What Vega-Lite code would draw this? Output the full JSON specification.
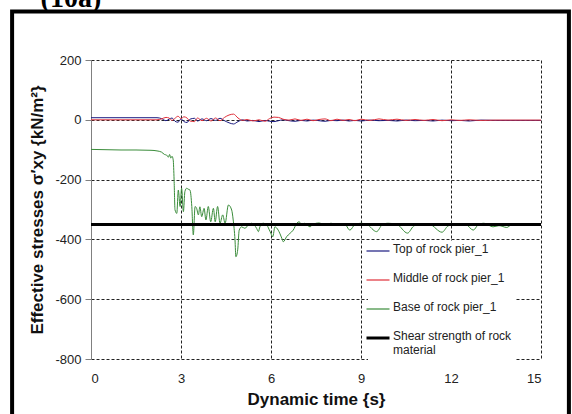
{
  "$schema": "https://vega.github.io/schema/vega-lite/v6.json",
  "autosize": {"type": "none"},
  "width": 450,
  "height": 299,
  "padding": {"left": 91, "top": 60, "right": 31, "bottom": 55},
  "background": "white",
  "config": {
    "font": "Liberation Sans",
    "view": {"stroke": null},
    "axis": {
      "labelFont": "Liberation Sans",
      "labelFontSize": 13,
      "labelColor": "#222",
      "titleFont": "Liberation Sans",
      "titleFontSize": 17,
      "titleFontWeight": "bold",
      "titleColor": "#111",
      "grid": true,
      "gridColor": "#222",
      "gridDash": [3, 2],
      "gridWidth": 1,
      "gridOpacity": 1
    },
    "legend": {
      "orient": "none",
      "legendX": 277,
      "legendY": 181,
      "fillColor": "white",
      "padding": 4,
      "labelFont": "Liberation Sans",
      "labelFontSize": 12,
      "labelColor": "#222",
      "labelLimit": 300,
      "labelOffset": 9,
      "symbolType": "stroke",
      "symbolSize": 530,
      "symbolStrokeWidth": 1.2,
      "rowPadding": 17
    }
  },
  "datasets": {
    "top": [
      {"t": 0, "s": 7}, {"t": 2.2, "s": 7}, {"t": 2.35, "s": 4}, {"t": 2.5, "s": -3}, {"t": 2.6, "s": 2},
      {"t": 2.7, "s": 6}, {"t": 2.8, "s": -5}, {"t": 2.9, "s": -8}, {"t": 3.0, "s": 3}, {"t": 3.1, "s": -6},
      {"t": 3.2, "s": -9}, {"t": 3.3, "s": 2}, {"t": 3.45, "s": 5}, {"t": 3.55, "s": -4}, {"t": 3.7, "s": 3},
      {"t": 3.85, "s": -3}, {"t": 4.0, "s": 4}, {"t": 4.15, "s": -2}, {"t": 4.3, "s": 5}, {"t": 4.45, "s": -3},
      {"t": 4.6, "s": -10}, {"t": 4.75, "s": -14}, {"t": 4.9, "s": -6}, {"t": 5.05, "s": 0}, {"t": 5.2, "s": -4},
      {"t": 5.4, "s": -2}, {"t": 5.6, "s": -6}, {"t": 5.8, "s": -2}, {"t": 5.95, "s": -5}, {"t": 6.1, "s": -6},
      {"t": 6.25, "s": -3}, {"t": 6.4, "s": 0}, {"t": 6.6, "s": -3}, {"t": 6.8, "s": -5}, {"t": 7.0, "s": -2},
      {"t": 7.2, "s": -4}, {"t": 7.4, "s": -1}, {"t": 7.6, "s": -3}, {"t": 7.8, "s": -5}, {"t": 8.0, "s": -2},
      {"t": 8.2, "s": -3}, {"t": 8.4, "s": -1}, {"t": 8.6, "s": -4}, {"t": 8.8, "s": -2}, {"t": 9.0, "s": -4},
      {"t": 9.3, "s": -1}, {"t": 9.6, "s": -3}, {"t": 9.9, "s": -2}, {"t": 10.2, "s": -4}, {"t": 10.5, "s": -1},
      {"t": 10.8, "s": -3}, {"t": 11.1, "s": -2}, {"t": 11.4, "s": -4}, {"t": 11.7, "s": -1}, {"t": 12.0, "s": -3},
      {"t": 12.3, "s": -2}, {"t": 12.6, "s": -4}, {"t": 13.0, "s": -1}, {"t": 13.5, "s": -2}, {"t": 15.0, "s": -2}
    ],
    "middle": [
      {"t": 0, "s": 0}, {"t": 2.2, "s": 0}, {"t": 2.35, "s": 3}, {"t": 2.5, "s": 8}, {"t": 2.6, "s": 6},
      {"t": 2.7, "s": -2}, {"t": 2.8, "s": 5}, {"t": 2.9, "s": 12}, {"t": 3.0, "s": 4}, {"t": 3.1, "s": 10},
      {"t": 3.2, "s": 6}, {"t": 3.3, "s": -4}, {"t": 3.45, "s": -6}, {"t": 3.55, "s": 6}, {"t": 3.7, "s": -3},
      {"t": 3.85, "s": 5}, {"t": 4.0, "s": -4}, {"t": 4.15, "s": 6}, {"t": 4.3, "s": -3}, {"t": 4.45, "s": 8},
      {"t": 4.6, "s": 16}, {"t": 4.75, "s": 19}, {"t": 4.9, "s": 6}, {"t": 5.05, "s": -2}, {"t": 5.2, "s": 1},
      {"t": 5.4, "s": -4}, {"t": 5.6, "s": 0}, {"t": 5.8, "s": -5}, {"t": 5.95, "s": 4}, {"t": 6.1, "s": 9},
      {"t": 6.25, "s": 8}, {"t": 6.4, "s": 2}, {"t": 6.6, "s": -1}, {"t": 6.8, "s": 3}, {"t": 7.0, "s": -2},
      {"t": 7.2, "s": 2}, {"t": 7.4, "s": -3}, {"t": 7.6, "s": 1}, {"t": 7.8, "s": 3}, {"t": 8.0, "s": -3},
      {"t": 8.2, "s": 2}, {"t": 8.4, "s": -2}, {"t": 8.6, "s": 1}, {"t": 8.8, "s": -3}, {"t": 9.0, "s": 2},
      {"t": 9.3, "s": -2}, {"t": 9.6, "s": 3}, {"t": 9.9, "s": -1}, {"t": 10.2, "s": 2}, {"t": 10.5, "s": -2},
      {"t": 10.8, "s": 1}, {"t": 11.1, "s": -2}, {"t": 11.4, "s": 1}, {"t": 11.7, "s": -3}, {"t": 12.0, "s": 0},
      {"t": 12.3, "s": -2}, {"t": 12.6, "s": 0}, {"t": 13.0, "s": -2}, {"t": 13.5, "s": -1}, {"t": 15.0, "s": -1}
    ],
    "base": [
      {"t": 0, "s": -99}, {"t": 0.5, "s": -100}, {"t": 1.0, "s": -101}, {"t": 1.5, "s": -101}, {"t": 2.0, "s": -102},
      {"t": 2.2, "s": -104}, {"t": 2.35, "s": -108}, {"t": 2.45, "s": -116}, {"t": 2.52, "s": -118}, {"t": 2.58, "s": -125},
      {"t": 2.62, "s": -116}, {"t": 2.66, "s": -128}, {"t": 2.7, "s": -122}, {"t": 2.74, "s": -134}, {"t": 2.77, "s": -201},
      {"t": 2.8, "s": -301}, {"t": 2.86, "s": -313}, {"t": 2.91, "s": -235}, {"t": 2.97, "s": -290}, {"t": 3.02, "s": -229},
      {"t": 3.08, "s": -307}, {"t": 3.13, "s": -240}, {"t": 3.19, "s": -229}, {"t": 3.24, "s": -232}, {"t": 3.3, "s": -235},
      {"t": 3.36, "s": -290}, {"t": 3.41, "s": -385}, {"t": 3.47, "s": -290}, {"t": 3.52, "s": -296}, {"t": 3.58, "s": -318},
      {"t": 3.63, "s": -291}, {"t": 3.69, "s": -324}, {"t": 3.77, "s": -296}, {"t": 3.83, "s": -335}, {"t": 3.91, "s": -290},
      {"t": 3.99, "s": -341}, {"t": 4.08, "s": -296}, {"t": 4.14, "s": -341}, {"t": 4.22, "s": -290}, {"t": 4.3, "s": -346},
      {"t": 4.39, "s": -318}, {"t": 4.47, "s": -346}, {"t": 4.58, "s": -285}, {"t": 4.69, "s": -302}, {"t": 4.74, "s": -335},
      {"t": 4.8, "s": -402}, {"t": 4.83, "s": -458}, {"t": 4.89, "s": -435}, {"t": 4.94, "s": -369}, {"t": 5.02, "s": -358},
      {"t": 5.13, "s": -363}, {"t": 5.24, "s": -352}, {"t": 5.36, "s": -346}, {"t": 5.52, "s": -363}, {"t": 5.58, "s": -374},
      {"t": 5.63, "s": -358}, {"t": 5.74, "s": -346}, {"t": 5.86, "s": -352}, {"t": 5.97, "s": -374}, {"t": 6.06, "s": -391},
      {"t": 6.13, "s": -358}, {"t": 6.24, "s": -369}, {"t": 6.36, "s": -396}, {"t": 6.41, "s": -408}, {"t": 6.52, "s": -391},
      {"t": 6.63, "s": -380}, {"t": 6.74, "s": -369}, {"t": 6.86, "s": -346}, {"t": 6.94, "s": -341}, {"t": 7.02, "s": -352},
      {"t": 7.13, "s": -346}, {"t": 7.3, "s": -358}, {"t": 7.41, "s": -349}, {"t": 7.6, "s": -345}, {"t": 7.8, "s": -350},
      {"t": 8.0, "s": -346}, {"t": 8.2, "s": -352}, {"t": 8.45, "s": -348}, {"t": 8.63, "s": -369}, {"t": 8.8, "s": -350},
      {"t": 9.0, "s": -346}, {"t": 9.2, "s": -350}, {"t": 9.52, "s": -374}, {"t": 9.7, "s": -352}, {"t": 9.9, "s": -346},
      {"t": 10.2, "s": -350}, {"t": 10.55, "s": -379}, {"t": 10.75, "s": -356}, {"t": 11.0, "s": -347}, {"t": 11.3, "s": -350},
      {"t": 11.7, "s": -376}, {"t": 11.9, "s": -355}, {"t": 12.2, "s": -347}, {"t": 12.5, "s": -350}, {"t": 12.74, "s": -369},
      {"t": 12.9, "s": -352}, {"t": 13.1, "s": -346}, {"t": 13.4, "s": -358}, {"t": 13.6, "s": -354}, {"t": 13.86, "s": -360},
      {"t": 14.0, "s": -352}, {"t": 14.3, "s": -348}, {"t": 14.6, "s": -350}, {"t": 15.0, "s": -350}
    ],
    "shear": [
      {"t": 0, "s": -350}, {"t": 15, "s": -350}
    ]
  },
  "layer": [
    {
      "data": {"values": [{}]},
      "mark": {"type": "rect", "fill": null, "stroke": "black", "strokeWidth": 4},
      "encoding": {
        "x": {"datum": -2.63, "type": "quantitative"},
        "x2": {"datum": 15.93},
        "y": {"datum": 362, "type": "quantitative"},
        "y2": {"datum": -1040}
      }
    },
    {
      "data": {"values": [{}]},
      "mark": {"type": "text", "text": "(10a)", "font": "Liberation Serif", "fontWeight": "bold", "fontSize": 28, "align": "center", "baseline": "alphabetic", "color": "black"},
      "encoding": {
        "x": {"datum": -0.67, "type": "quantitative"},
        "y": {"datum": 377, "type": "quantitative"}
      }
    },
    {
      "data": {"name": "base"},
      "mark": {"type": "line", "strokeWidth": 1, "interpolate": "monotone"},
      "encoding": {
        "x": {"field": "t", "type": "quantitative", "scale": {"domain": [0, 15], "nice": false},
          "axis": {"values": [0, 3, 6, 9, 12, 15], "title": "Dynamic time {s}", "domain": false, "ticks": false, "labelPadding": 13, "titlePadding": 6}},
        "y": {"field": "s", "type": "quantitative", "scale": {"domain": [-800, 200], "nice": false},
          "axis": {"values": [-800, -600, -400, -200, 0, 200], "labelExpr": "toString(datum.value)", "title": "Effective  stresses σ′xy {kN/m²}", "domain": true, "domainColor": "#808080", "tickColor": "#808080", "tickSize": 6, "labelPadding": 4, "titlePadding": 8}},
        "color": {"datum": "Base of rock pier_1", "type": "nominal",
          "scale": {"domain": ["Top of rock pier_1", "Middle of rock pier_1", "Base of rock pier_1", "Shear strength of rock material"], "range": ["#1a1a80", "#e0303a", "#3a8c3a", "#000000"]},
          "legend": {"title": null,
            "labelExpr": "datum.label == 'Shear strength of rock material' ? ['Shear strength of rock', 'material'] : datum.label",
            "encode": {
              "labels": {"update": {"baseline": {"value": "top"}, "dy": {"value": -7}}},
              "symbols": {"update": {"strokeWidth": {"signal": "datum.value == 'Shear strength of rock material' ? 3 : 1.2"}}}
            }}}
      }
    },
    {
      "data": {"name": "top"},
      "mark": {"type": "line", "strokeWidth": 1, "interpolate": "monotone"},
      "encoding": {
        "x": {"field": "t", "type": "quantitative"},
        "y": {"field": "s", "type": "quantitative"},
        "color": {"datum": "Top of rock pier_1", "type": "nominal"}
      }
    },
    {
      "data": {"name": "middle"},
      "mark": {"type": "line", "strokeWidth": 1, "interpolate": "monotone"},
      "encoding": {
        "x": {"field": "t", "type": "quantitative"},
        "y": {"field": "s", "type": "quantitative"},
        "color": {"datum": "Middle of rock pier_1", "type": "nominal"}
      }
    },
    {
      "data": {"name": "shear"},
      "mark": {"type": "line", "strokeWidth": 3},
      "encoding": {
        "x": {"field": "t", "type": "quantitative"},
        "y": {"field": "s", "type": "quantitative"},
        "color": {"datum": "Shear strength of rock material", "type": "nominal"}
      }
    }
  ]
}
